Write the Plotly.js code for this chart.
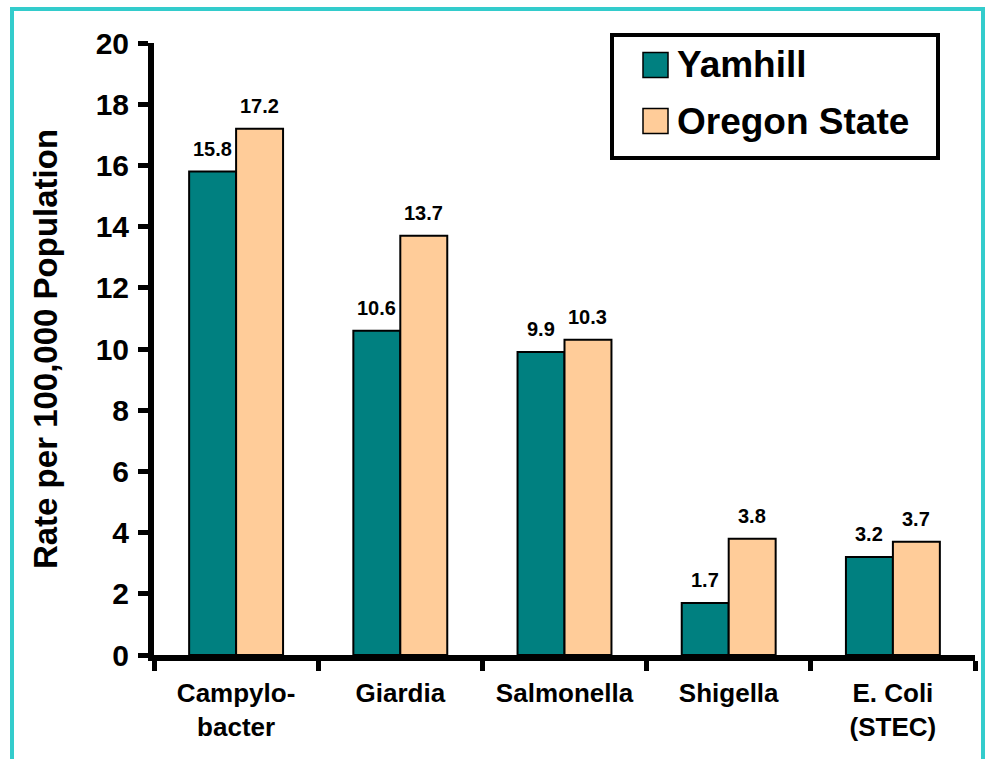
<!DOCTYPE html>
<html>
<head>
<meta charset="utf-8">
<script src="https://cdn.plot.ly/plotly-3.0.1.min.js"></script>
<style>
  html, body { margin: 0; padding: 0; background: #ffffff; }
  #wrap { position: relative; width: 989px; height: 759px; overflow: hidden; }
  #frame { position: absolute; left: 10px; top: 7px; width: 967px; height: 800px; border: 4px solid #33CCCC; pointer-events: none; }
  #chart { position: absolute; left: 0; top: 0; width: 989px; height: 759px; }
</style>
</head>
<body>
<div id="wrap">
  <div id="chart"></div>
  <div id="frame"></div>
</div>
<script>
const categories = ["Campylo-<br>bacter", "Giardia", "Salmonella", "Shigella", "E. Coli<br>(STEC)"];
const seriesNames = ["Yamhill", "Oregon State"];
const yamhill = [15.8, 10.6, 9.9, 1.7, 3.2];
const oregon = [17.2, 13.7, 10.3, 3.8, 3.7];
const yTicks = [0, 2, 4, 6, 8, 10, 12, 14, 16, 18, 20];

const FONT = "Liberation Sans, Arial, Helvetica, sans-serif";
const W = 989, H = 759;
const M = { l: 154, r: 14, t: 43, b: 104 };
const plotW = W - M.l - M.r, plotH = H - M.t - M.b;
const BARGAP = 0.428;
const barPx = plotW / categories.length * (1 - BARGAP) / 2;
const colors = ["#008080", "#FFCC99"];
const seriesVals = [yamhill, oregon];

const traces = seriesVals.map((vals, i) => ({
  type: "bar",
  name: seriesNames[i],
  x: categories,
  y: vals,
  marker: { color: colors[i], line: { color: "#000000", width: 2 } },
  showlegend: false,
  hoverinfo: "none"
}));

const annotations = [];
seriesVals.forEach((vals, i) => {
  vals.forEach((v, j) => {
    annotations.push({
      x: categories[j], y: v, xref: "x", yref: "y",
      text: v.toFixed(1), showarrow: false,
      xanchor: "center", yanchor: "bottom",
      xshift: (i === 0 ? -1 : 1) * barPx / 2, yshift: 10,
      font: { family: FONT, size: 20, color: "#000", weight: "bold" }
    });
  });
});

// custom legend (pixel -> paper helpers)
const px = X => (X - M.l) / plotW;
const py = Y => (H - M.b - Y) / plotH;
const shapes = [{
  type: "rect", xref: "paper", yref: "paper",
  x0: px(612), x1: px(938), y0: py(35), y1: py(158),
  line: { color: "#000", width: 4 }, fillcolor: "#fff", layer: "above"
}];
const legendRows = [65, 121];
seriesNames.forEach((name, i) => {
  const cy = legendRows[i];
  shapes.push({
    type: "rect", xref: "paper", yref: "paper",
    x0: px(643), x1: px(668), y0: py(cy - 12.5), y1: py(cy + 12.5),
    line: { color: "#000", width: 1.5 }, fillcolor: colors[i], layer: "above"
  });
  annotations.push({
    xref: "paper", yref: "paper", x: px(675), y: py(cy),
    xanchor: "left", yanchor: "middle", showarrow: false,
    text: name,
    font: { family: FONT, size: 37, color: "#000", weight: "bold" }
  });
});

const layout = {
  width: W, height: H,
  margin: M,
  paper_bgcolor: "#ffffff", plot_bgcolor: "#ffffff",
  font: { family: FONT, color: "#000" },
  barmode: "group", bargap: BARGAP, bargroupgap: 0,
  xaxis: {
    type: "category",
    showline: true, linecolor: "#000", linewidth: 6,
    ticks: "outside", tickson: "boundaries", ticklen: 10, tickwidth: 5, tickcolor: "#000",
    ticklabelstandoff: 10,
    tickfont: { family: FONT, size: 26, color: "#000", weight: "bold" },
    showgrid: false, zeroline: false, fixedrange: true
  },
  yaxis: {
    range: [0, 20], tickvals: yTicks, ticktext: yTicks.map(String),
    showline: true, linecolor: "#000", linewidth: 6,
    ticks: "outside", ticklen: 10, tickwidth: 5, tickcolor: "#000",
    ticklabelstandoff: 3,
    tickfont: { family: FONT, size: 30, color: "#000", weight: "bold" },
    showgrid: false, zeroline: false, fixedrange: true,
    title: { text: "Rate per 100,000 Population", standoff: 30,
      font: { family: FONT, size: 33, color: "#000", weight: "bold" } }
  },
  annotations: annotations,
  shapes: shapes
};

Plotly.newPlot("chart", traces, layout, { displayModeBar: false, staticPlot: true });
</script>
</body>
</html>
